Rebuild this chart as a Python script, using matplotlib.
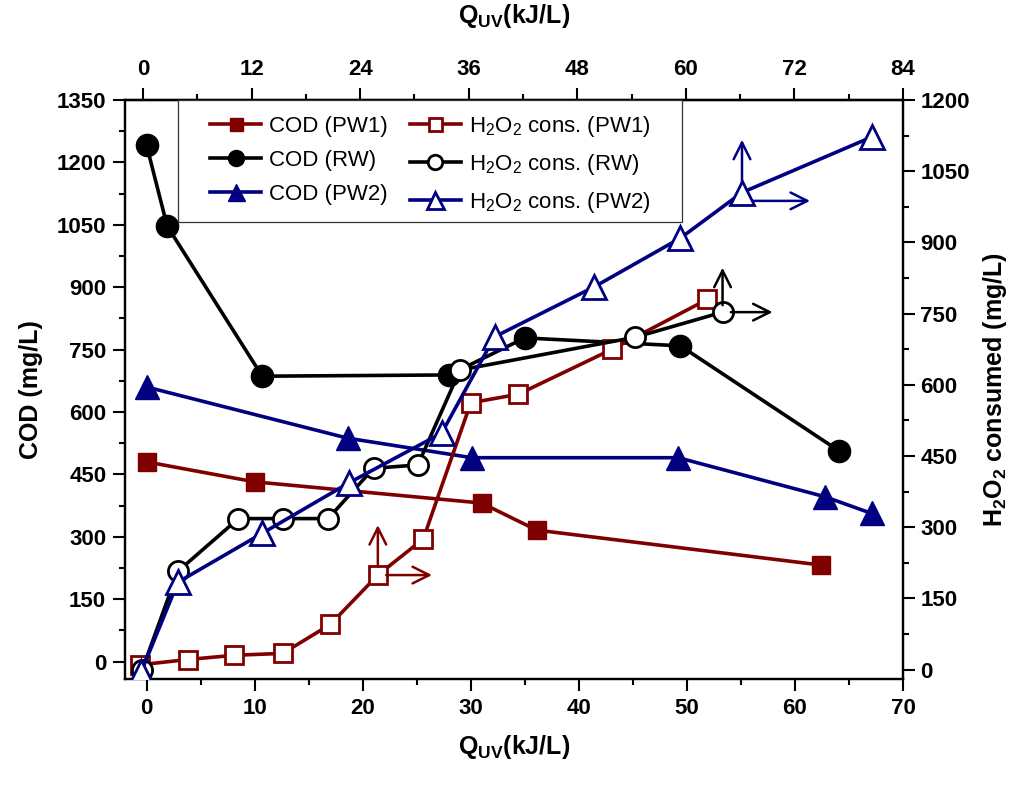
import matplotlib
matplotlib.use("Agg")
import matplotlib.pyplot as plt
from matplotlib.ticker import MultipleLocator
from matplotlib.text import OffsetFrom
from matplotlib.patches import Rectangle

plt.rcParams['font.family'] = ['Liberation Sans', 'DejaVu Sans']
plt.rcParams['mathtext.fontset'] = 'custom'
plt.rcParams['mathtext.rm'] = 'Liberation Sans'
plt.rcParams['mathtext.bf'] = 'Liberation Sans:bold'
plt.rcParams['mathtext.it'] = 'Liberation Sans:italic'
plt.rcParams['mathtext.default'] = 'regular'

# ---------------- data ----------------
x_cod_pw1 = [0, 10, 31, 36.1, 62.4]
cod_pw1 = [480, 432, 381, 316, 232]
x_cod_rw = [0, 1.9, 10.7, 28.0, 35.0, 49.4, 64.1]
cod_rw = [1241, 1047, 686, 689, 778, 759, 506]
x_cod_pw2 = [0, 18.6, 30.1, 49.2, 62.8, 67.1]
cod_pw2 = [660, 537, 490, 490, 396, 356]

x_h2o2_pw1 = [-0.6, 3.8, 8.1, 12.6, 17.0, 21.4, 25.6, 30.0, 34.4, 43.1, 51.9]
h2o2_pw1 = [10, 21, 30, 34, 95, 199, 275, 562, 580, 675, 780]
x_h2o2_rw = [-0.4, 2.9, 8.5, 12.6, 16.8, 21.0, 25.1, 29.0, 45.2, 53.3]
h2o2_rw = [0, 207, 318, 318, 318, 424, 431, 631, 700, 753]
x_h2o2_pw2 = [-0.5, 2.9, 10.7, 18.7, 27.3, 32.2, 41.4, 49.4, 55.1, 67.1]
h2o2_pw2 = [-5, 184, 287, 393, 498, 701, 806, 909, 1005, 1122]

labels_cod = ['COD (PW1)', 'COD (RW)', 'COD (PW2)']
labels_h2o2 = [r'H$_2$O$_2$ cons. (PW1)', r'H$_2$O$_2$ cons. (RW)', r'H$_2$O$_2$ cons. (PW2)']

RED = '#800000'
BLK = '#000000'
BLU = '#000080'

fig = plt.figure(figsize=(10.25, 7.87), dpi=100)
ax = fig.add_axes([125/1025, 1-679/787, (903-125)/1025, (679-100)/787])
ax2 = ax.twinx()

lw = 2.6
h1, = ax.plot(x_cod_pw1, cod_pw1, color=RED, lw=lw, marker='s', ms=13,
              mfc=RED, mec=RED, label=labels_cod[0], zorder=3)
h2, = ax.plot(x_cod_rw, cod_rw, color=BLK, lw=lw, marker='o', ms=16,
              mfc=BLK, mec=BLK, label=labels_cod[1], zorder=3)
h3, = ax.plot(x_cod_pw2, cod_pw2, color=BLU, lw=lw, marker='^', ms=17,
              mfc=BLU, mec=BLU, label=labels_cod[2], zorder=3)

h4, = ax2.plot(x_h2o2_pw1, h2o2_pw1, color=RED, lw=lw, marker='s', ms=13,
               mfc='white', mec=RED, mew=2.0, label=labels_h2o2[0], zorder=3)
h5, = ax2.plot(x_h2o2_rw, h2o2_rw, color=BLK, lw=lw, marker='o', ms=14.5,
               mfc='white', mec=BLK, mew=2.0, label=labels_h2o2[1], zorder=3)
h6, = ax2.plot(x_h2o2_pw2, h2o2_pw2, color=BLU, lw=lw, marker='^', ms=17,
               mfc='white', mec=BLU, mew=2.0, label=labels_h2o2[2], zorder=3)

# arrows pointing to axes (up -> top axis, right -> right axis)
STYLE = '->, head_length=0.6, head_width=0.3'


def arrow(x, y, color, start, end):
    ref = OffsetFrom(ax2.transData, (x, y), unit='points')
    ax2.annotate('', xy=end, xycoords=ref, xytext=start, textcoords=ref,
                 arrowprops=dict(arrowstyle=STYLE, color=color, lw=1.8,
                                 shrinkA=0, shrinkB=0, mutation_scale=20))


arrow(x_h2o2_pw1[5], h2o2_pw1[5], RED, (0, 6), (0, 36))
arrow(x_h2o2_pw1[5], h2o2_pw1[5], RED, (6, 0), (39, 0))
arrow(x_h2o2_rw[-1], h2o2_rw[-1], BLK, (0, 5), (0, 32))
arrow(x_h2o2_rw[-1], h2o2_rw[-1], BLK, (6, 0), (36, 0))
arrow(x_h2o2_pw2[-2], h2o2_pw2[-2], BLU, (0, 7), (0, 38))
arrow(x_h2o2_pw2[-2], h2o2_pw2[-2], BLU, (8, -6), (49, -6))

# axes limits / ticks
ax.set_xlim(-2, 70)
ax.set_ylim(-42, 1350)
ax2.set_ylim(-20, 1200)

ax.xaxis.set_major_locator(MultipleLocator(10))
ax.xaxis.set_minor_locator(MultipleLocator(5))
ax.yaxis.set_major_locator(MultipleLocator(150))
ax.yaxis.set_minor_locator(MultipleLocator(75))
ax2.yaxis.set_major_locator(MultipleLocator(150))
ax2.yaxis.set_minor_locator(MultipleLocator(75))

for a in (ax, ax2):
    for s in a.spines.values():
        s.set_linewidth(1.6)

ax.tick_params(axis='both', which='major', direction='out', length=8.5, width=1.5, labelsize=16, pad=5)
ax.tick_params(axis='both', which='minor', direction='out', length=4.5, width=1.5)
ax.tick_params(axis='x', top=False)
ax2.tick_params(axis='y', which='major', direction='out', length=8.5, width=1.5, labelsize=16, pad=4)
ax2.tick_params(axis='y', which='minor', direction='out', length=4.5, width=1.5)
for lab in ax.get_xticklabels() + ax.get_yticklabels() + ax2.get_yticklabels():
    lab.set_fontweight('bold')


def fwd(x):
    return -2 + (x + 2) * 86.0 / 72.0


def inv(t):
    return -2 + (t + 2) * 72.0 / 86.0


secax = ax.secondary_xaxis('top', functions=(fwd, inv))
secax.xaxis.set_major_locator(MultipleLocator(12))
secax.xaxis.set_minor_locator(MultipleLocator(6))
secax.tick_params(which='major', direction='out', length=8.5, width=1.5, labelsize=16, pad=6)
secax.tick_params(which='minor', direction='out', length=4.5, width=1.5)
secax.spines['top'].set_linewidth(1.6)
for lab in secax.get_xticklabels():
    lab.set_fontweight('bold')

ax.set_xlabel(r'Q$_{\mathbf{UV}}$(kJ/L)', fontsize=18, fontweight='bold', labelpad=10)
secax.set_xlabel(r'Q$_{\mathbf{UV}}$(kJ/L)', fontsize=18, fontweight='bold', labelpad=26)
ax.set_ylabel('COD (mg/L)', fontsize=18, fontweight='bold', labelpad=10)
ax2.set_ylabel(r'H$_{\mathbf{2}}$O$_{\mathbf{2}}$ consumed (mg/L)', fontsize=18,
               fontweight='bold', rotation=90, labelpad=8)

# legend frame (drawn as a box in axes coordinates)
W, H = 778.0, 579.0
box = Rectangle(((178 - 125) / W, (679 - 222) / H), (682 - 178) / W, (222 - 100) / H,
                transform=ax2.transAxes, facecolor='white', edgecolor='#333333',
                lw=0.9, zorder=9, clip_on=False)
ax2.add_patch(box)

leg = ax2.legend(handles=[h1, h2, h3, h4, h5, h6], ncol=2, loc='upper left',
                 bbox_to_anchor=((210 - 125) / W, (679 - 114) / H), borderaxespad=0,
                 fontsize=16, frameon=False, handlelength=2.3, handletextpad=0.35,
                 columnspacing=1.0, labelspacing=0.58, markerscale=0.72,
                 borderpad=0.0)
leg.set_zorder(10)

fig.savefig('out.png', dpi=100)
